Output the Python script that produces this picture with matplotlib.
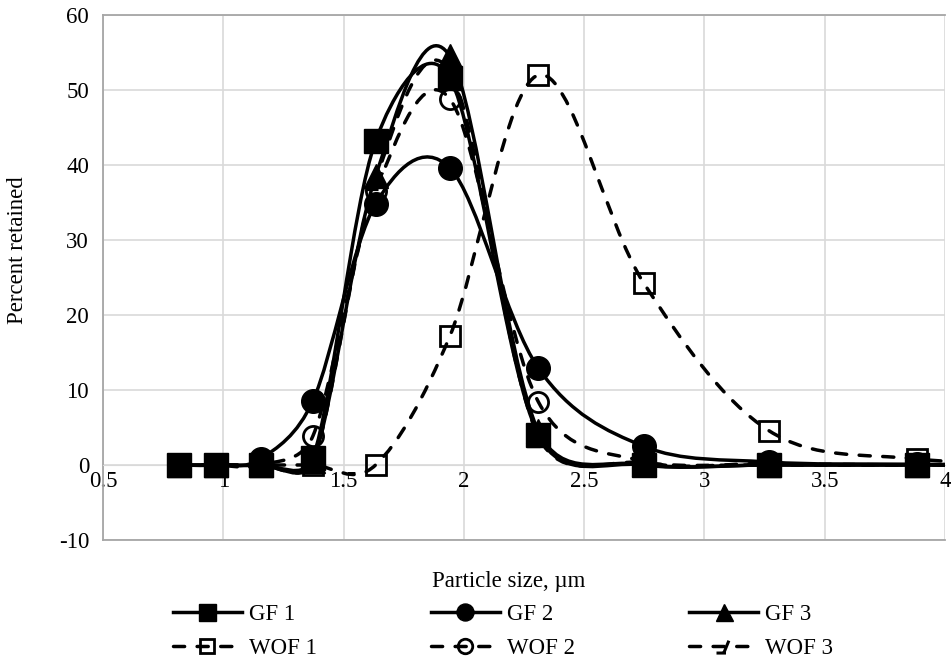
#! /usr/bin/env python3

"""Particle size distribution of GF and WOF samples."""

import matplotlib
matplotlib.use('Agg')
import matplotlib.pyplot as plt
import numpy as np
from matplotlib.lines import Line2D
from matplotlib.patches import PathPatch
from matplotlib.path import Path

# Particle size classes (um)
sizes = [0.816, 0.971, 1.155, 1.373, 1.633, 1.942, 2.31, 2.747, 3.267, 3.885,
         4.62]

# Percent retained per sample
gf1 = [0, 0, 0, 1.0, 43.2, 51.6, 4.0, 0, 0, 0, 0]
gf2 = [0, 0, 0.8, 8.6, 34.8, 39.6, 12.9, 2.5, 0.4, 0.1, 0]
gf3 = [0, 0, 0, 0.5, 38.5, 54.5, 4.5, 0.1, 0, 0, 0]
wof1 = [0, 0, 0, 0, 0, 17.2, 52.0, 24.3, 4.6, 0.8, 0]
wof2 = [0, 0, 0, 3.9, 36.5, 48.8, 8.4, 0.5, 0.2, 0, 0]
wof3 = [0, 0, 0, 0.5, 38.0, 52.5, 3.8, 0.3, 0, 0, 0]

labels = ['GF 1', 'GF 2', 'GF 3', 'WOF 1', 'WOF 2', 'WOF 3']

x_ticks = [0.5, 1, 1.5, 2, 2.5, 3, 3.5, 4]
x_tick_labels = ['0.5', '1', '1.5', '2', '2.5', '3', '3.5', '4']
y_ticks = [-10, 0, 10, 20, 30, 40, 50, 60]

plt.rcParams['font.family'] = ['Liberation Serif', 'DejaVu Serif']
plt.rcParams['font.size'] = 16.5
plt.rcParams['axes.unicode_minus'] = False

DASH = (0, (3.2, 3.6))

# Partial (dashed) triangle as drawn for WOF 3
tri_part = Path([(-0.55, -0.45), (0.1, -0.45), (-0.05, -0.45), (0.3, 0.4)],
                [Path.MOVETO, Path.LINETO, Path.MOVETO, Path.LINETO])


def smooth_path(ax, x, y):
    """Bezier path through the points, roughly Excel's smoothed line.

    Control points are worked out in screen space, with the handle
    length capped at half the segment, then mapped back to data.
    """
    to_px = ax.transData
    pts = to_px.transform(np.column_stack([x, y]).astype(float))
    n = len(pts)
    verts = [pts[0]]
    codes = [Path.MOVETO]
    for i in range(n - 1):
        p0 = pts[max(i - 1, 0)]
        p1 = pts[i]
        p2 = pts[i + 1]
        p3 = pts[min(i + 2, n - 1)]
        d12 = np.hypot(*(p2 - p1))
        d02 = np.hypot(*(p2 - p0))
        d13 = np.hypot(*(p3 - p1))
        f0 = min(1 / 6, d12 / (2 * d02)) if d02 > 0 else 0
        f1 = min(1 / 6, d12 / (2 * d13)) if d13 > 0 else 0
        verts += [p1 + (p2 - p0) * f0, p2 - (p3 - p1) * f1, p2]
        codes += [Path.CURVE4] * 3
    verts = to_px.inverted().transform(np.array(verts))
    return Path(verts, codes)


fig = plt.figure(figsize=(9.51, 6.63), dpi=100)
ax = fig.add_axes([103 / 951, 1 - 540 / 663, 842 / 951, 525 / 663])
ax.set_xlim(0.5, 4)
ax.set_ylim(-10, 60)

series = [
    (gf1, '-', dict(marker='s', ms=17, mfc='black', mec='black')),
    (gf2, '-', dict(marker='o', ms=17, mfc='black', mec='black')),
    (gf3, '-', dict(marker='^', ms=17, mfc='black', mec='black')),
    (wof1, DASH, dict(marker='s', ms=14.5, mfc='none', mec='black', mew=2)),
    (wof2, DASH, dict(marker='o', ms=14.5, mfc='none', mec='black', mew=2)),
    (wof3, DASH, dict(marker=tri_part, ms=16, mfc='none', mec='black',
                      mew=2.2)),
]

handles = []
for (vals, ls, mk), label in zip(series, labels):
    patch = PathPatch(smooth_path(ax, sizes, vals), fill=False, ec='black',
                      lw=2.5, ls=ls, capstyle='round', zorder=3)
    ax.add_patch(patch)
    ax.plot(sizes, vals, ls='none', zorder=4, **mk)
    leg_mk = dict(mk)
    leg_mk['ms'] = mk['ms'] * 0.72
    handles.append(Line2D([], [], color='black', lw=2.5, ls=ls,
                          dash_capstyle='round', label=label, **leg_mk))

ax.set_xlim(0.5, 4)
ax.set_ylim(-10, 60)
ax.set_xticks(x_ticks)
ax.set_xticklabels(x_tick_labels)
ax.set_yticks(y_ticks)

ax.grid(True, color='#d9d9d9', lw=1.2, zorder=0)
ax.set_axisbelow(True)

ax.spines['right'].set_visible(False)
ax.spines['bottom'].set_position(('data', 0))
ax.spines['bottom'].set_color('#d9d9d9')
ax.spines['left'].set_color('#a6a6a6')
ax.spines['top'].set_color('#a6a6a6')
ax.spines['left'].set_linewidth(1.3)
ax.spines['top'].set_linewidth(1.3)
ax.axhline(-10, color='#a6a6a6', lw=1.3, zorder=1, clip_on=False)

ax.tick_params(axis='both', length=0, labelsize=16.5)
ax.tick_params(axis='x', pad=4)
ax.tick_params(axis='y', pad=10)

ax.set_ylabel('Percent retained', fontsize=16.5, va='center')
ax.yaxis.set_label_coords(-0.101, 0.552)
ax.set_xlabel('Particle size, µm', fontsize=16.5, va='center')
ax.xaxis.set_label_coords(0.482, -0.08)

# Column-major order so GF sits on the top row
order = [0, 3, 1, 4, 2, 5]
fig.legend([handles[i] for i in order], [labels[i] for i in order],
           ncol=3, frameon=False, loc='upper left',
           bbox_to_anchor=(173 / 951, 1 - 604 / 663),
           borderpad=0, borderaxespad=0, handlelength=3.0,
           handletextpad=0.3, columnspacing=5.0, labelspacing=0.55,
           fontsize=16.5)

fig.savefig('out.png', dpi=100)
